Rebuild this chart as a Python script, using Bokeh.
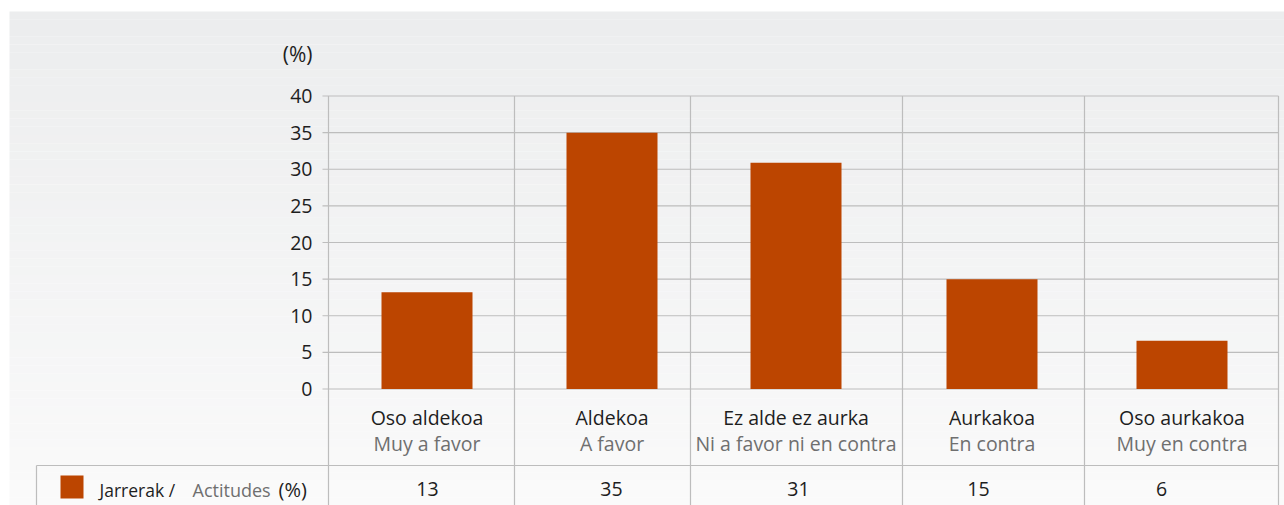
from bokeh.plotting import figure
from bokeh.models import Range1d
from bokeh.embed import file_html
from bokeh.resources import INLINE
from bokeh.core.properties import value

# ---------------- data ----------------
categories_eu = ["Oso aldekoa", "Aldekoa", "Ez alde ez aurka", "Aurkakoa", "Oso aurkakoa"]
categories_es = ["Muy a favor", "A favor", "Ni a favor ni en contra", "En contra", "Muy en contra"]
values = [13.2, 35.0, 30.9, 15.0, 6.6]
value_labels = ["13", "35", "31", "15", "6"]
y_ticks = [0, 5, 10, 15, 20, 25, 30, 35, 40]
unit_label = "(%)"
series_eu = "Jarrerak /"
series_es = "Actitudes"
series_unit = "(%)"

# ---------------- layout (page pixels) ----------------
W, H = 1284, 505
ZERO_PX = 388.5          # page y of value 0
PX_PER_UNIT = 7.325      # pixels per percentage point
FONT = value("Open Sans")
BAR_COLOR = "#bc4500"
GRID = "#bdbdbd"
DARK = "#1e1e1e"
GREY_TXT = "#6f6f6f"

def py(page_y):
    return (ZERO_PX - page_y) / PX_PER_UNIT

col_edges = [328, 514, 690, 902, 1084, 1278]
col_centers = [426.5, 611.5, 795.5, 991.5, 1181.5]     # category slot centres
value_label_x = [427, 611, 798, 978, 1161]              # table cell text positions

p = figure(width=W, height=H, x_range=Range1d(0, W), y_range=Range1d(py(H), py(0)),
           x_axis_type=None, y_axis_type=None, toolbar_location=None, output_backend="svg",
           min_border=0, outline_line_color=None, background_fill_color="white",
           border_fill_color="white")

# gradient background
n = 60
top_px, bot_px = 11, H
c0, c1 = (236, 237, 238), (250, 250, 250)
lefts, rights, tops, bottoms, cols = [], [], [], [], []
for i in range(n):
    a = top_px + (bot_px - top_px) * i / n
    b = top_px + (bot_px - top_px) * (i + 1) / n
    t = i / (n - 1)
    c = tuple(int(round(c0[k] + (c1[k] - c0[k]) * t)) for k in range(3))
    lefts.append(9); rights.append(W); tops.append(py(a)); bottoms.append(py(b) - 0.01)
    cols.append("#%02x%02x%02x" % c)
p.quad(left=lefts, right=rights, top=tops, bottom=bottoms, fill_color=cols, line_color=None)

# horizontal grid lines
p.segment(x0=[322] * len(y_ticks), x1=[col_edges[-1]] * len(y_ticks), y0=y_ticks, y1=y_ticks,
          line_color=GRID, line_width=1.2)
# vertical column lines
p.segment(x0=col_edges, x1=col_edges, y0=[max(y_ticks)] * len(col_edges), y1=[py(H)] * len(col_edges),
          line_color=GRID, line_width=1.2)
# table top line and left border
p.segment(x0=[36], x1=[col_edges[-1]], y0=[py(465)], y1=[py(465)], line_color=GRID, line_width=1.2)
p.segment(x0=[36], x1=[36], y0=[py(465)], y1=[py(H)], line_color=GRID, line_width=1.2)

# bars
p.vbar(x=col_centers, top=values, bottom=0, width=91, fill_color=BAR_COLOR, line_color=None)

# y tick labels
p.text(x=[312] * len(y_ticks), y=y_ticks, text=[str(t) for t in y_ticks], text_align="right",
       text_baseline="middle", text_font=FONT, text_font_size="19.5px", text_color=DARK)
p.text(x=[312], y=[py(53)], text=[unit_label], text_align="right", text_baseline="middle",
       text_font=FONT, text_font_size="21px", text_color=DARK)

# category labels
p.text(x=col_centers, y=[py(417)] * len(col_centers), text=categories_eu, text_align="center",
       text_baseline="middle", text_font=FONT, text_font_size="19.5px", text_color=DARK)
p.text(x=col_centers, y=[py(443)] * len(col_centers), text=categories_es, text_align="center",
       text_baseline="middle", text_font=FONT, text_font_size="19.5px", text_color=GREY_TXT)

# table values
p.text(x=value_label_x, y=[py(488)] * len(value_label_x), text=value_labels, text_align="center",
       text_baseline="middle", text_font=FONT, text_font_size="19.5px", text_color=DARK)

# legend cell
p.quad(left=[60], right=[83], top=[py(475)], bottom=[py(498)], fill_color=BAR_COLOR, line_color=None)
p.text(x=[99], y=[py(489)], text=[series_eu], text_align="left", text_baseline="middle",
       text_font=FONT, text_font_size="17.5px", text_color=DARK)
p.text(x=[192], y=[py(489)], text=[series_es], text_align="left", text_baseline="middle",
       text_font=FONT, text_font_size="18px", text_color=GREY_TXT)
p.text(x=[278], y=[py(489)], text=[series_unit], text_align="left", text_baseline="middle",
       text_font=FONT, text_font_size="20px", text_color=DARK)

open("out.html", "w").write(file_html(p, INLINE))
